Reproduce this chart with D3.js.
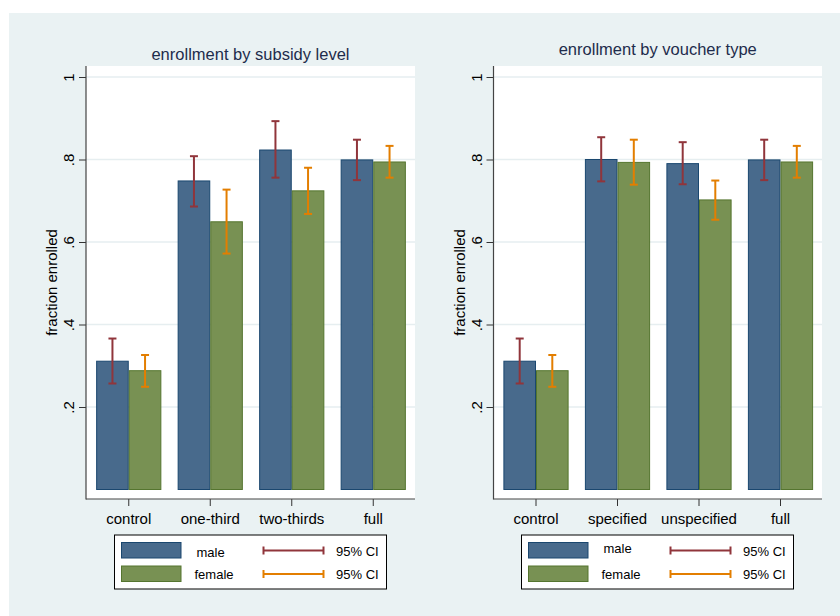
<html>
<head>
  <script src="https://d3js.org/d3.v7.min.js"></script>
  <style>
    body { margin: 0; background: #ffffff; }
    text { font-family: "Liberation Sans", Arial, sans-serif; }
  </style>
</head>
<body>
  <div id="chart"></div>
  <script>
    // data
    const subsidyLevels = ["control", "one-third", "two-thirds", "full"];
    const subsidyMale = [0.311, 0.748, 0.823, 0.799];
    const subsidyMaleLo = [0.257, 0.686, 0.756, 0.750];
    const subsidyMaleHi = [0.366, 0.808, 0.893, 0.848];
    const subsidyFemale = [0.288, 0.649, 0.724, 0.794];
    const subsidyFemaleLo = [0.249, 0.572, 0.668, 0.756];
    const subsidyFemaleHi = [0.326, 0.727, 0.780, 0.833];

    const voucherTypes = ["control", "specified", "unspecified", "full"];
    const voucherMale = [0.311, 0.800, 0.790, 0.799];
    const voucherMaleLo = [0.257, 0.747, 0.740, 0.750];
    const voucherMaleHi = [0.366, 0.854, 0.842, 0.848];
    const voucherFemale = [0.288, 0.793, 0.702, 0.794];
    const voucherFemaleLo = [0.249, 0.739, 0.654, 0.756];
    const voucherFemaleHi = [0.326, 0.848, 0.749, 0.833];

    const yTicks = [0.2, 0.4, 0.6, 0.8, 1];
    const sexes = ["male", "female"];
    const legendLabels = ["male", "female"];

    const width = 840, height = 616;
    const fill = { male: "#486a8c", female: "#789153" };
    const edge = { male: "#1a476f", female: "#55752f" };
    const ciColor = { male: "#90353b", female: "#e37e00" };

    const svg = d3.create("svg").attr("width", width).attr("height", height);
    svg.append("rect").attr("x", 9).attr("y", 13).attr("width", width - 9).attr("height", height - 13)
      .attr("fill", "#eaf2f3");

    const y = d3.scaleLinear().domain([0, 1]).range([489.5, 77]);

    function drawPanel(p) {
      const rows = p.cats.map((c, i) => ({
        cat: c,
        male: { v: p.male[i], lo: p.maleLo[i], hi: p.maleHi[i] },
        female: { v: p.female[i], lo: p.femaleLo[i], hi: p.femaleHi[i] }
      }));
      const g = svg.append("g");
      // plot region
      g.append("rect").attr("x", p.left).attr("y", 66).attr("width", p.right - p.left).attr("height", 499 - 66)
        .attr("fill", "#ffffff");

      const x = d3.scaleBand().domain(p.cats).range([p.bandStart, p.bandStart + 326])
        .paddingInner(0.2).paddingOuter(0.1);
      const xs = d3.scaleBand().domain(sexes).range([0, x.bandwidth()]);

      // grid
      g.append("g").selectAll("line").data(yTicks).join("line")
        .attr("x1", p.left).attr("x2", p.right)
        .attr("y1", d => y(d)).attr("y2", d => y(d))
        .attr("stroke", "#e6eef0").attr("stroke-width", 1.5);

      // bars
      sexes.forEach(s => {
        g.append("g").selectAll("rect").data(rows).join("rect")
          .attr("x", d => x(d.cat) + xs(s) + 0.5)
          .attr("y", d => y(d[s].v))
          .attr("width", xs.bandwidth() - 1)
          .attr("height", d => y(0) - y(d[s].v))
          .attr("fill", fill[s]).attr("stroke", edge[s]).attr("stroke-width", 1);
      });

      // confidence intervals
      sexes.forEach(s => {
        const ci = g.append("g").attr("stroke", ciColor[s]).attr("stroke-width", 2);
        const cx = d => x(d.cat) + xs(s) + xs.bandwidth() / 2;
        ci.selectAll("line.v").data(rows).join("line").attr("class", "v")
          .attr("x1", cx).attr("x2", cx)
          .attr("y1", d => y(d[s].lo)).attr("y2", d => y(d[s].hi));
        ["lo", "hi"].forEach(k => {
          ci.selectAll("line." + k).data(rows).join("line").attr("class", k)
            .attr("x1", d => cx(d) - 4).attr("x2", d => cx(d) + 4)
            .attr("y1", d => y(d[s][k])).attr("y2", d => y(d[s][k]));
        });
      });

      // y axis
      const ya = g.append("g").attr("transform", `translate(${p.left},0)`)
        .call(d3.axisLeft(y).tickValues(yTicks).tickSize(7)
          .tickFormat(d => d === 1 ? "1" : d3.format(".1f")(d).replace("0.", ".")));
      ya.select(".domain").remove();
      ya.selectAll(".tick line").attr("stroke", "#333");
      ya.selectAll(".tick text")
        .attr("font-size", 15).attr("fill", "#000")
        .attr("x", null).attr("dy", null)
        .attr("text-anchor", "middle")
        .attr("transform", "translate(-12,0) rotate(-90)");
      g.append("line").attr("x1", p.left).attr("x2", p.left).attr("y1", 66).attr("y2", 499.5)
        .attr("stroke", "#444").attr("stroke-width", 1.2);

      // x axis
      const xa = g.append("g").attr("transform", "translate(0,499)")
        .call(d3.axisBottom(x).tickSize(7).tickSizeOuter(0));
      xa.select(".domain").remove();
      xa.selectAll(".tick line").attr("stroke", "#333");
      xa.selectAll(".tick text").attr("font-size", 15).attr("fill", "#000").attr("dy", null).attr("y", 25);
      g.append("line").attr("x1", p.left).attr("x2", p.right).attr("y1", 499).attr("y2", 499)
        .attr("stroke", "#444").attr("stroke-width", 1.2);

      // titles
      g.append("text").attr("x", (p.left + p.right) / 2).attr("y", p.titleY)
        .attr("text-anchor", "middle").attr("font-size", 16.5).attr("fill", "#1e2c4c")
        .text(p.title);
      g.append("text").attr("transform", `translate(${p.left - 29},282.5) rotate(-90)`)
        .attr("text-anchor", "middle").attr("font-size", 15).attr("fill", "#000")
        .text("fraction enrolled");

      // legend
      const lg = g.append("g").attr("transform", `translate(${p.legendX},535)`);
      lg.append("rect").attr("width", 272).attr("height", 54)
        .attr("fill", "#fff").attr("stroke", "#000").attr("stroke-width", 1);
      sexes.forEach((s, i) => {
        const yy = i === 0 ? 15.5 : 39;
        lg.append("rect").attr("x", 7).attr("y", yy - 8).attr("width", 59.5).attr("height", 15.5)
          .attr("fill", fill[s]).attr("stroke", edge[s]).attr("stroke-width", 1);
        lg.append("text").attr("x", i === 0 ? 82 : 80).attr("y", yy + (i === 0 ? p.maleTextDy : 5))
          .attr("font-size", 13).attr("fill", "#000").text(legendLabels[i]);
        const cl = lg.append("g").attr("stroke", ciColor[s]).attr("stroke-width", 2);
        cl.append("line").attr("x1", 149).attr("x2", 209).attr("y1", yy).attr("y2", yy);
        cl.append("line").attr("x1", 149).attr("x2", 149).attr("y1", yy - 4).attr("y2", yy + 4);
        cl.append("line").attr("x1", 209).attr("x2", 209).attr("y1", yy - 4).attr("y2", yy + 4);
        lg.append("text").attr("x", 221.5).attr("y", yy + 5)
          .attr("font-size", 13).attr("fill", "#000").text("95% CI");
      });
    }

    drawPanel({
      title: "enrollment by subsidy level", titleY: 60,
      cats: subsidyLevels, male: subsidyMale, maleLo: subsidyMaleLo, maleHi: subsidyMaleHi,
      female: subsidyFemale, femaleLo: subsidyFemaleLo, femaleHi: subsidyFemaleHi,
      left: 86, right: 415, bandStart: 88, legendX: 114.5, maleTextDy: 6
    });
    drawPanel({
      title: "enrollment by voucher type", titleY: 55,
      cats: voucherTypes, male: voucherMale, maleLo: voucherMaleLo, maleHi: voucherMaleHi,
      female: voucherFemale, femaleLo: voucherFemaleLo, femaleHi: voucherFemaleHi,
      left: 493.5, right: 822, bandStart: 495.25, legendX: 521.5, maleTextDy: 2
    });

    document.getElementById("chart").appendChild(svg.node());
  </script>
</body>
</html>
